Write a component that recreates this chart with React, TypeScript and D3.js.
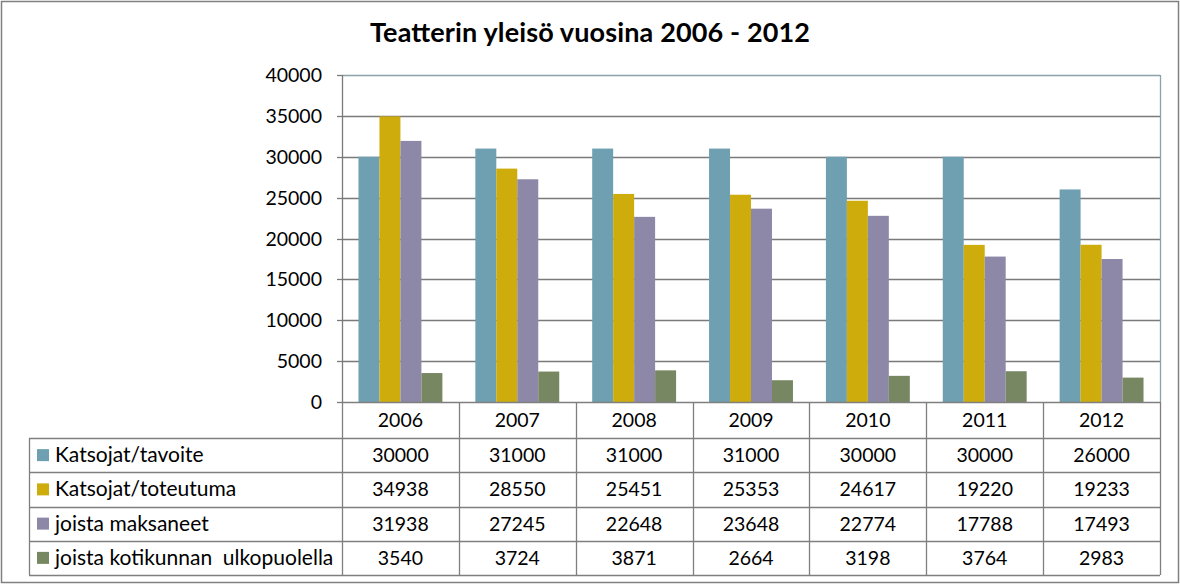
import React from "react";
import * as d3 from "d3";

const title = "Teatterin yleisö vuosina 2006 - 2012";
const years = ["2006", "2007", "2008", "2009", "2010", "2011", "2012"];
const seriesNames = [
  "Katsojat/tavoite",
  "Katsojat/toteutuma",
  "joista maksaneet",
  "joista kotikunnan  ulkopuolella",
];
const tavoite = [30000, 31000, 31000, 31000, 30000, 30000, 26000];
const toteutuma = [34938, 28550, 25451, 25353, 24617, 19220, 19233];
const maksaneet = [31938, 27245, 22648, 23648, 22774, 17788, 17493];
const ulkopuolella = [3540, 3724, 3871, 2664, 3198, 3764, 2983];
const yTicks = [0, 5000, 10000, 15000, 20000, 25000, 30000, 35000, 40000];
const colors = ["#6fa0b1", "#ceac0c", "#8d88a7", "#778761"];

const series = [tavoite, toteutuma, maksaneet, ulkopuolella];

const W = 1180;
const H = 585;
const plotL = 342;
const plotR = 1160;
const plotT = 75;
const plotB = 402;
const headerB = 438;
const tableB = 575;
const tableL = 29;
const FONT = "Lato, 'Open Sans', sans-serif";

export default function App() {
  const x0 = d3.scaleBand<string>().domain(years).range([plotL, plotR]).padding(0);
  const bw = x0.bandwidth();
  const groupPad = bw * 0.141;
  const x1 = d3
    .scaleBand<number>()
    .domain(d3.range(series.length))
    .range([groupPad, bw - groupPad])
    .padding(0);
  const y = d3.scaleLinear().domain([0, 40000]).range([plotB, plotT]);
  const rowH = (tableB - headerB) / seriesNames.length;
  const rowY = (i: number) => headerB + i * rowH;

  const lineColor = "#7f7f7f";

  return (
    <svg
      width={W}
      height={H}
      style={{ position: "absolute", left: 0, top: 0, background: "#fff" }}
      fontFamily={FONT}
    >
      <rect x={1.5} y={1.5} width={1177} height={581} fill="#fff" stroke="#808080" strokeWidth={1.5} />
      <text x={590} y={42} textAnchor="middle" fontSize={27} fontWeight="bold" fill="#000" textLength={440} lengthAdjust="spacing">
        {title}
      </text>

      {/* gridlines */}
      {yTicks.slice(1, -1).map((t) => (
        <line key={t} x1={plotL} x2={plotR} y1={Math.round(y(t)) + 0.5} y2={Math.round(y(t)) + 0.5} stroke="#7a7a7a" strokeWidth={1.3} />
      ))}
      {/* plot border top/right */}
      <line x1={plotL} x2={plotR} y1={plotT + 0.5} y2={plotT + 0.5} stroke="#8aa3aa" strokeWidth={1.3} />
      <line x1={plotR + 0.5} x2={plotR + 0.5} y1={plotT} y2={plotB} stroke="#8aa3aa" strokeWidth={1.3} />

      {/* bars */}
      {years.map((yr, i) => (
        <g key={yr} transform={`translate(${x0(yr)},0)`}>
          {series.map((s, j) => (
            <rect
              key={j}
              x={x1(j)}
              y={y(s[i])}
              width={x1.bandwidth()}
              height={plotB - y(s[i])}
              fill={colors[j]}
            />
          ))}
        </g>
      ))}

      {/* y axis */}
      <line x1={plotL + 0.5} x2={plotL + 0.5} y1={plotT} y2={plotB} stroke="#7a7a7a" strokeWidth={1.3} />
      {yTicks.map((t) => (
        <g key={t}>
          <line x1={plotL - 5} x2={plotL} y1={Math.round(y(t)) + 0.5} y2={Math.round(y(t)) + 0.5} stroke="#7a7a7a" strokeWidth={1.3} />
          <text x={322} y={y(t) + 7} textAnchor="end" fontSize={19.5} fill="#000">
            {t}
          </text>
        </g>
      ))}

      {/* table */}
      <line x1={plotL} x2={plotR} y1={plotB + 0.5} y2={plotB + 0.5} stroke={lineColor} strokeWidth={1.3} />
      {d3.range(seriesNames.length + 1).map((i) => (
        <line key={i} x1={tableL} x2={plotR} y1={Math.round(rowY(i)) + 0.5} y2={Math.round(rowY(i)) + 0.5} stroke={lineColor} strokeWidth={1.3} />
      ))}
      <line x1={tableL + 0.5} x2={tableL + 0.5} y1={headerB} y2={tableB} stroke={lineColor} strokeWidth={1.3} />
      {years.map((yr) => (
        <line key={yr} x1={Math.round(x0(yr)!) + 0.5} x2={Math.round(x0(yr)!) + 0.5} y1={plotB} y2={tableB} stroke={lineColor} strokeWidth={1.3} />
      ))}
      <line x1={plotR + 0.5} x2={plotR + 0.5} y1={plotB} y2={tableB} stroke={lineColor} strokeWidth={1.3} />

      {years.map((yr) => (
        <text key={yr} x={x0(yr)! + bw / 2} y={(plotB + headerB) / 2 + 7} textAnchor="middle" fontSize={19.5} fill="#000">
          {yr}
        </text>
      ))}

      {seriesNames.map((name, j) => {
        const cy = rowY(j) + rowH / 2;
        return (
          <g key={name}>
            <rect x={37} y={cy - 6} width={12} height={12} fill={colors[j]} />
            <text x={55} y={cy + 7} fontSize={21} fill="#000" style={{ whiteSpace: "pre" }}>
              {name}
            </text>
            {years.map((yr, i) => (
              <text key={yr} x={x0(yr)! + bw / 2} y={cy + 7} textAnchor="middle" fontSize={19.5} fill="#000">
                {series[j][i]}
              </text>
            ))}
          </g>
        );
      })}
    </svg>
  );
}
